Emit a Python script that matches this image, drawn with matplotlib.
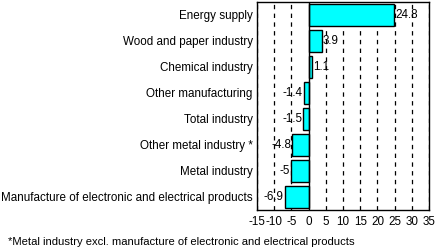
import numpy as np
import matplotlib as mpl
mpl.use('Agg')
from matplotlib import pyplot as plt

categories = ['Energy supply', 'Wood and paper industry', 'Chemical industry',
              'Other manufacturing', 'Total industry', 'Other metal industry *',
              'Metal industry', 'Manufacture of electronic and electrical products']
values = [24.8, 3.9, 1.1, -1.4, -1.5, -4.8, -5, -6.9]
value_labels = ['24.8', '3.9', '1.1', '-1.4', '-1.5', '-4.8', '-5', '-6.9']
xticks = [-15, -10, -5, 0, 5, 10, 15, 20, 25, 30, 35]
footnote = '*Metal industry excl. manufacture of electronic and electrical products'

plt.rcParams['font.family'] = ['Liberation Sans', 'DejaVu Sans']
plt.rcParams['font.size'] = 8.4

fig = plt.figure(figsize=(4.36, 2.5), dpi=100)
ax = fig.add_axes([257/436, 1 - 210/250, (429-257)/436, (210-2)/250])

y = np.arange(len(categories))
for xt in xticks:
    if xt != 0:
        ax.axvline(xt, color='black', lw=0.9, ls=(0, (3.5, 3.5)), zorder=0)
ax.axvline(0, color='black', lw=1.0, zorder=3)
ax.barh(y, values, height=0.82, color='#00FFFF', edgecolor='black', lw=1.0, zorder=2)

for yi, v, lab in zip(y, values, value_labels):
    if v >= 0:
        ax.text(v + 0.3, yi, lab, ha='left', va='center', zorder=4)
    else:
        ax.text(v - 0.3, yi, lab, ha='right', va='center', zorder=4)

ax.set_xlim(-15, 35)
ax.set_ylim(len(categories) - 0.5, -0.5)
ax.set_xticks(xticks)
ax.set_xticklabels([str(t) for t in xticks])
ax.set_yticks(y)
ax.set_yticklabels(categories)
ax.tick_params(axis='both', length=0, pad=3)
ax.tick_params(axis='x', pad=4)
for s in ax.spines.values():
    s.set_linewidth(1.0)

fig.text(8/436, 1 - 242/250, footnote, ha='left', va='center', fontsize=8.1)
fig.savefig('out.png', dpi=100)
